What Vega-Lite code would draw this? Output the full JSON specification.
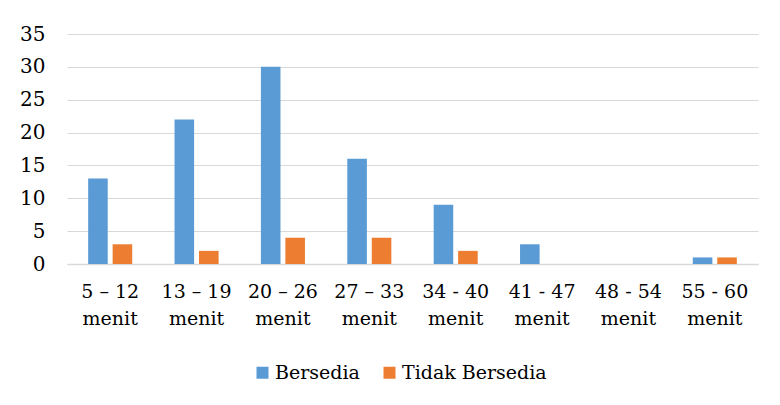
{
  "$schema": "https://vega.github.io/schema/vega-lite/v6.json",
  "width": 691,
  "height": 230,
  "autosize": {"type": "none"},
  "padding": {"left": 67, "top": 34, "right": 22, "bottom": 141},
  "background": "white",
  "config": {
    "font": "DejaVu Serif",
    "axis": {"labelFont": "DejaVu Serif"},
    "axisX": {"labelFont": "DejaVu Serif"},
    "axisY": {"labelFont": "DejaVu Serif"},
    "legend": {"labelFont": "DejaVu Serif"},
    "view": {"stroke": null}
  },
  "data": {
    "values": [
      {"durasi": "5 – 12 menit", "status": "Bersedia", "jumlah": 13},
      {"durasi": "5 – 12 menit", "status": "Tidak Bersedia", "jumlah": 3},
      {"durasi": "13 – 19 menit", "status": "Bersedia", "jumlah": 22},
      {"durasi": "13 – 19 menit", "status": "Tidak Bersedia", "jumlah": 2},
      {"durasi": "20 – 26 menit", "status": "Bersedia", "jumlah": 30},
      {"durasi": "20 – 26 menit", "status": "Tidak Bersedia", "jumlah": 4},
      {"durasi": "27 – 33 menit", "status": "Bersedia", "jumlah": 16},
      {"durasi": "27 – 33 menit", "status": "Tidak Bersedia", "jumlah": 4},
      {"durasi": "34 - 40 menit", "status": "Bersedia", "jumlah": 9},
      {"durasi": "34 - 40 menit", "status": "Tidak Bersedia", "jumlah": 2},
      {"durasi": "41 - 47 menit", "status": "Bersedia", "jumlah": 3},
      {"durasi": "41 - 47 menit", "status": "Tidak Bersedia", "jumlah": 0},
      {"durasi": "48 - 54 menit", "status": "Bersedia", "jumlah": 0},
      {"durasi": "48 - 54 menit", "status": "Tidak Bersedia", "jumlah": 0},
      {"durasi": "55 - 60 menit", "status": "Bersedia", "jumlah": 1},
      {"durasi": "55 - 60 menit", "status": "Tidak Bersedia", "jumlah": 1}
    ]
  },
  "mark": {"type": "bar"},
  "encoding": {
    "x": {
      "field": "durasi",
      "type": "nominal",
      "sort": null,
      "scale": {"paddingInner": 0.49, "paddingOuter": 0.245},
      "axis": {
        "title": null,
        "labelAngle": 0,
        "labelExpr": "[slice(datum.value, 0, -6), 'menit']",
        "labelFont": "DejaVu Serif",
        "labelFontSize": 19,
        "labelColor": "#000000",
        "labelLineHeight": 27,
        "labelPadding": 18,
        "labelBaseline": "top",
        "ticks": false,
        "domainColor": "#D9D9D9",
        "domainWidth": 1.5
      }
    },
    "xOffset": {
      "field": "status",
      "type": "nominal",
      "scale": {"paddingInner": 0.2, "paddingOuter": 0}
    },
    "y": {
      "field": "jumlah",
      "type": "quantitative",
      "scale": {"domain": [0, 35]},
      "axis": {
        "title": null,
        "values": [0, 5, 10, 15, 20, 25, 30, 35],
        "labelFont": "DejaVu Serif",
        "labelFontSize": 20,
        "labelColor": "#000000",
        "labelPadding": 22,
        "ticks": false,
        "domain": false,
        "gridColor": "#D9D9D9",
        "gridWidth": 1
      }
    },
    "color": {
      "field": "status",
      "type": "nominal",
      "scale": {"domain": ["Bersedia", "Tidak Bersedia"], "range": ["#5B9BD5", "#ED7D31"]},
      "legend": {
        "title": null,
        "orient": "none",
        "direction": "horizontal",
        "legendX": 186,
        "legendY": 329,
        "symbolType": "square",
        "symbolSize": 144,
        "symbolStrokeWidth": 0,
        "labelFont": "DejaVu Serif",
        "labelFontSize": 19,
        "labelColor": "#000000",
        "labelOffset": 3,
        "columnPadding": 20,
        "padding": 0
      }
    }
  }
}
